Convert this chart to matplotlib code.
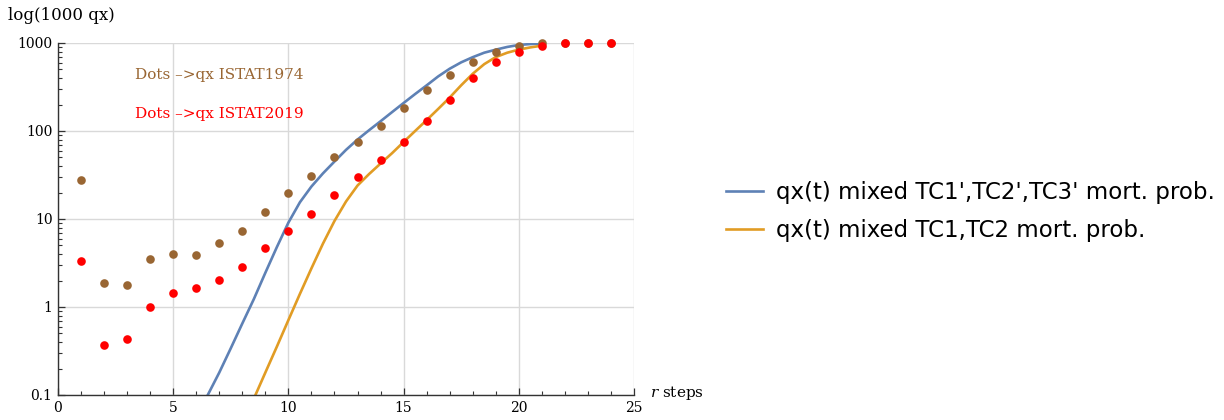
import matplotlib
matplotlib.use("Agg")
import matplotlib.pyplot as plt
from matplotlib.ticker import FixedLocator, NullFormatter

# Dots: qx * 1000 per step
steps = list(range(1, 25))
qx_1974 = [27.5, 1.86, 1.77, 3.48, 4.0, 3.87, 5.3, 7.25, 11.9, 20.0, 30.6, 50.7,
           74.5, 115, 181, 290, 437, 614, 790, 933, 990, 1000, 1000, 1000]
qx_2019 = [3.36, 0.367, 0.436, 1.0, 1.43, 1.63, 2.01, 2.87, 4.67, 7.33, 11.4, 18.5,
           29.8, 47.3, 75.5, 130, 226, 402, 615, 792, 930, 1000, 1000, 1000]

# Fitted curves, sampled off the chart
t_blue = [6.5, 7, 7.5, 8, 8.5, 9, 9.5, 10, 10.5, 11, 11.5, 12, 12.5, 13, 13.5, 14,
          14.5, 15, 15.5, 16, 16.5, 17, 17.5, 18, 18.5, 19, 19.5, 20, 20.5, 21]
q_blue = [0.1, 0.18, 0.34, 0.65, 1.23, 2.45, 4.8, 9.1, 15.5, 23.4, 33, 45, 61, 80,
          102, 129, 164, 208, 263, 330, 417, 510, 603, 690, 776, 840, 902, 950, 973, 985]
t_orange = [8.57, 9, 9.5, 10, 10.5, 11, 11.5, 12, 12.5, 13, 13.5, 14, 14.5, 15,
            15.5, 16, 16.5, 17, 17.5, 18, 18.5, 19, 19.5, 20, 20.5, 21]
q_orange = [0.1, 0.18, 0.355, 0.71, 1.41, 2.75, 5.25, 9.5, 15.8, 24, 32.4, 42.7,
            56, 75, 100, 133, 178, 240, 331, 447, 575, 692, 776, 841, 891, 933]

BLUE = "#5e81b5"
ORANGE = "#e19c24"
BROWN = "#996633"
RED = "#ff0000"
SERIF = "DejaVu Serif"

plt.rcParams["mathtext.fontset"] = "dejavuserif"

fig = plt.figure(figsize=(12.24, 4.2), dpi=100)
ax = fig.add_axes([58 / 1224, 25 / 420, 576 / 1224, 352 / 420])

l1, = ax.plot(t_blue, q_blue, color=BLUE, lw=1.9,
              label="qx(t) mixed TC1',TC2',TC3' mort. prob.")
l2, = ax.plot(t_orange, q_orange, color=ORANGE, lw=1.9,
              label="qx(t) mixed TC1,TC2 mort. prob.")
ax.plot(steps, qx_1974, "o", color=BROWN, ms=6.2, mew=0, clip_on=False, zorder=4)
ax.plot(steps, qx_2019, "o", color=RED, ms=6.2, mew=0, clip_on=False, zorder=5)

ax.set_yscale("log")
ax.set_xlim(0, 25)
ax.set_ylim(0.1, 1000)

ax.xaxis.set_major_locator(FixedLocator([0, 5, 10, 15, 20, 25]))
ax.xaxis.set_minor_locator(FixedLocator([i for i in range(26) if i % 5]))
ax.yaxis.set_major_locator(FixedLocator([0.1, 1, 10, 100, 1000]))
minors = [m * 10.0 ** e for e in range(-1, 3) for m in range(2, 10)]
ax.yaxis.set_minor_locator(FixedLocator(minors))
ax.yaxis.set_minor_formatter(NullFormatter())
ax.set_yticklabels(["0.1", "1", "10", "100", "1000"])

ax.grid(True, which="major", color="#d9d9d9", lw=1)
ax.set_axisbelow(True)
for s in ("top", "right"):
    ax.spines[s].set_visible(False)
for s in ("left", "bottom"):
    ax.spines[s].set_color("#333333")
    ax.spines[s].set_linewidth(1)

ax.tick_params(which="major", direction="in", length=5, width=0.9, color="#333333",
               labelsize=10, pad=4)
ax.tick_params(which="minor", direction="in", length=3, width=0.8, color="#333333")
for lab in ax.get_xticklabels() + ax.get_yticklabels():
    lab.set_family(SERIF)

ax.text(0.134, 0.909, "Dots \u2013>qx ISTAT1974", transform=ax.transAxes,
        color=BROWN, fontsize=11, family=SERIF, va="center")
ax.text(0.134, 0.798, "Dots \u2013>qx ISTAT2019", transform=ax.transAxes,
        color=RED, fontsize=11, family=SERIF, va="center")

fig.text(8 / 1224, 1 - 15 / 420, "log(1000 qx)", fontsize=12, family=SERIF,
         va="center")
fig.text(650 / 1224, 1 - 393 / 420, r"$\it{r}$ steps", fontsize=11, family=SERIF,
         va="center")

fig.legend(handles=[l1, l2], loc="upper left", bbox_to_anchor=(726 / 1224, 0.568),
           frameon=False, fontsize=16.5, handlelength=1.6, handletextpad=0.57,
           labelspacing=0.64, borderpad=0, borderaxespad=0)

fig.savefig("out.png", dpi=100)
